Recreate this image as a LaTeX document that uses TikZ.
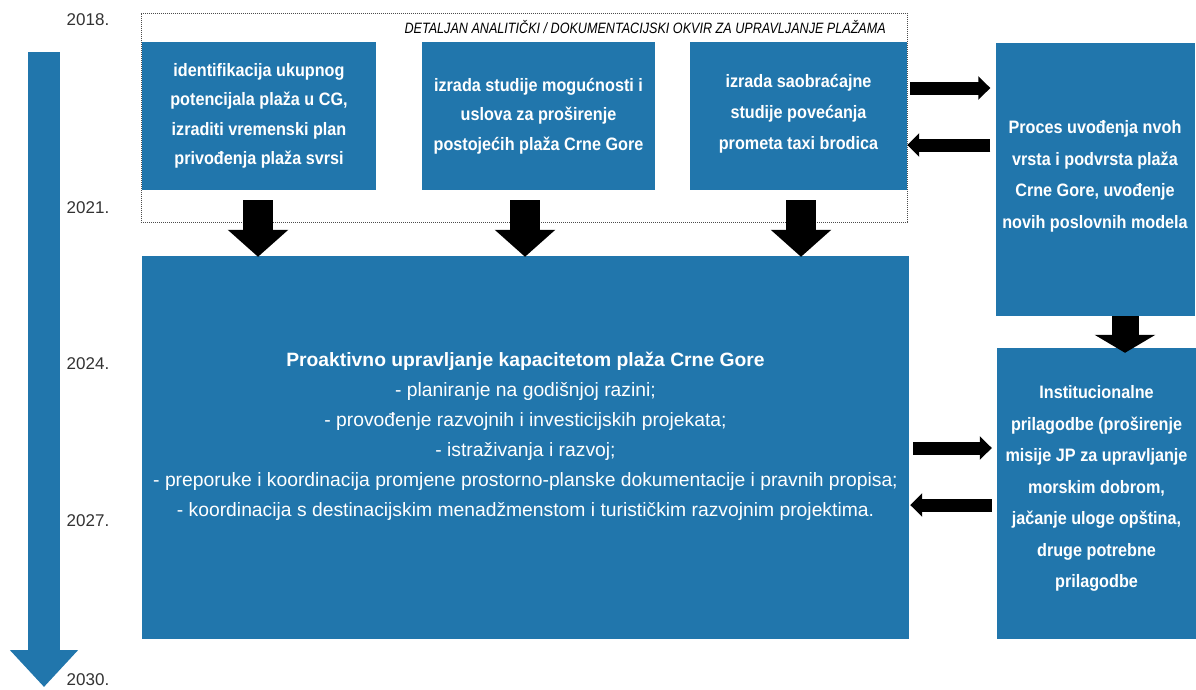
\documentclass[tikz,border=0pt]{standalone}
\usepackage{fontspec}
\setmainfont{Liberation Sans}
\newfontfamily\nar{Liberation Sans}[FakeStretch=0.9]
\newfontfamily\tnar{Liberation Sans}[FakeStretch=0.84]
\usetikzlibrary{arrows.meta}
\definecolor{boxblue}{RGB}{33,118,172}
\definecolor{yeargray}{RGB}{50,50,50}
\begin{document}
\begin{tikzpicture}[x=1pt,y=-1pt,
  bluebox/.style={fill=boxblue, draw=none, inner sep=0pt},
  boxtxt/.style={text=white, align=center, inner sep=0pt, font=\nar\bfseries\fontsize{18}{29.5}\selectfont},
  sidetxt/.style={text=white, align=center, inner sep=0pt, font=\nar\bfseries\fontsize{18}{31.5}\selectfont},
  bigtxt/.style={text=white, align=center, inner sep=0pt, font=\fontsize{19.3}{30}\selectfont},
  year/.style={text=yeargray, inner sep=0pt, font=\fontsize{17}{17}\selectfont},
  downarrow/.style={draw=black, line width=30pt, -{Triangle[length=27pt,width=59pt]}},
  sidearrow/.style={draw=black, line width=13pt, -{Triangle[length=12pt,width=23pt]}},
  frame/.style={draw=black!70, dash pattern=on 1.2pt off 0.8pt, line width=0.6pt}]
\useasboundingbox (0,0) rectangle (1196,689);

% timeline
\coordinate (tltop) at (44,52);
\coordinate (tlbot) at (44,687);
\draw[boxblue, line width=32pt, -{Triangle[length=37pt,width=66pt]}] (tltop) -- (tlbot);
\node[year] (y2018) at (88,20) {2018.};
\node[year] (y2021) at (88,208) {2021.};
\node[year] (y2024) at (88,364) {2024.};
\node[year] (y2027) at (88,521) {2027.};
\node[year] (y2030) at (88,680) {2030.};

% dashed frame
\node[frame, minimum width=766pt, minimum height=209pt, inner sep=0pt] (frame) at (524,117.5) {};
\node[anchor=east, inner sep=0pt, text=black, font=\tnar\itshape\fontsize{15}{15}\selectfont] (title) at (886,27)
  {DETALJAN ANALITIČKI / DOKUMENTACIJSKI OKVIR ZA UPRAVLJANJE PLAŽAMA};

% top boxes
\node[bluebox, minimum width=234pt, minimum height=148pt] (b1) at (259,116) {};
\node[boxtxt] (t1) at (b1.center) {identifikacija ukupnog\\potencijala plaža u CG,\\izraditi vremenski plan\\privođenja plaža svrsi};
\node[bluebox, minimum width=233pt, minimum height=148pt] (b2) at (538.5,116) {};
\node[boxtxt] (t2) at (b2.center) {izrada studije mogućnosti i\\uslova za proširenje\\postojećih plaža Crne Gore};
\node[bluebox, minimum width=217pt, minimum height=148pt] (b3) at (798.5,116) {};
\node[boxtxt, font=\nar\bfseries\fontsize{18}{31}\selectfont] (t3) at ([yshift=2pt]b3.center) {izrada saobraćajne\\studije povećanja\\prometa taxi brodica};

% big box
\node[bluebox, minimum width=767pt, minimum height=383pt] (big) at (525.5,447.5) {};
\node[bigtxt] (bt) at ([yshift=11pt]big.center) {{\bfseries Proaktivno upravljanje kapacitetom plaža Crne Gore}\\
- planiranje na godišnjoj razini;\\
- provođenje razvojnih i investicijskih projekata;\\
- istraživanja i razvoj;\\
- preporuke i koordinacija promjene prostorno-planske dokumentacije i pravnih propisa;\\
- koordinacija s destinacijskim menadžmenstom i turističkim razvojnim projektima.};

% right boxes
\node[bluebox, minimum width=199pt, minimum height=273pt] (rt) at (1095,179.5) {};
\node[sidetxt] (rtt) at ([yshift=3pt]rt.center) {Proces uvođenja nvoh\\vrsta i podvrsta plaža\\Crne Gore, uvođenje\\novih poslovnih modela};
\node[bluebox, minimum width=199pt, minimum height=291pt] (lr) at (1096.5,493.5) {};
\node[sidetxt] (lrt) at ([yshift=5pt]lr.center) {Institucionalne\\prilagodbe (proširenje\\misije JP za upravljanje\\morskim dobrom,\\jačanje uloge opština,\\druge potrebne\\prilagodbe};

% down arrows
\coordinate (a1) at (258,0);
\coordinate (a2) at (525,0);
\coordinate (a3) at (801,0);
\coordinate (a4) at (1125,0);
\draw[downarrow, shorten <=10pt, shorten >=-1pt] (b1.south -| a1) -- (big.north -| a1);
\draw[downarrow, shorten <=10pt, shorten >=-1pt] (b2.south -| a2) -- (big.north -| a2);
\draw[downarrow, shorten <=10pt, shorten >=-1pt] (b3.south -| a3) -- (big.north -| a3);
\draw[draw=black, line width=27pt, -{Triangle[length=18pt,width=60pt]}, shorten >=-5pt] (rt.south -| a4) -- (lr.north -| a4);

% side arrows
\coordinate (h1) at (0,88);
\coordinate (h2) at (0,145);
\coordinate (h3) at (0,448);
\coordinate (h4) at (0,505);
\draw[sidearrow, shorten <=3pt, shorten >=5pt] (b3.east |- h1) -- (rt.west |- h1);
\draw[sidearrow, shorten <=5pt] (rt.west |- h2) -- (b3.east |- h2);
\draw[sidearrow, shorten <=4pt, shorten >=5pt] (big.east |- h3) -- (lr.west |- h3);
\draw[sidearrow, shorten <=5pt, shorten >=1pt] (lr.west |- h4) -- (big.east |- h4);
\end{tikzpicture}
\end{document}
